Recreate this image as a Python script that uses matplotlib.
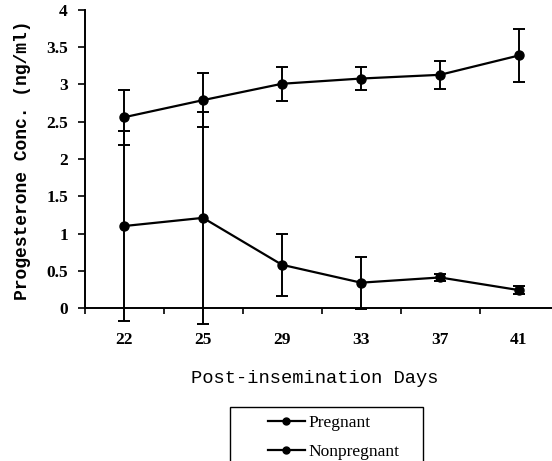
import matplotlib
matplotlib.use("Agg")
import matplotlib.pyplot as plt
from matplotlib.lines import Line2D
from matplotlib.patches import Rectangle
import numpy as np

days = ["22", "25", "29", "33", "37", "41"]
pregnant = [2.56, 2.79, 3.01, 3.08, 3.13, 3.39]
pregnant_err = [0.37, 0.36, 0.23, 0.16, 0.19, 0.36]
nonpregnant = [1.10, 1.21, 0.58, 0.34, 0.41, 0.24]
nonpregnant_err = [1.28, 1.42, 0.42, 0.35, 0.05, 0.05]
yticks = [0, 0.5, 1, 1.5, 2, 2.5, 3, 3.5, 4]
ytick_labels = ["0", "0.5", "1", "1.5", "2", "2.5", "3", "3.5", "4"]
series_names = ["Pregnant", "Nonpregnant"]

W, H = 552, 461
fig = plt.figure(figsize=(W / 100, H / 100), dpi=100)
x0_px, y0_px, ytop_px = 84.5, 308, 10
right_px = 124 + 5.5 * 79
ax = fig.add_axes([x0_px / W, (H - y0_px) / H, (right_px - x0_px) / W, (y0_px - ytop_px) / H])
axw = right_px - x0_px
axh = y0_px - ytop_px

serif = "Liberation Serif"
mono = "Liberation Mono"
xs = np.arange(len(days))

common = dict(color="black", linewidth=1.6, markersize=6.5, elinewidth=1.4,
              capsize=4, capthick=1.4, clip_on=False)
ax.errorbar(xs, pregnant, yerr=pregnant_err, marker="o", **common)
ax.errorbar(xs, nonpregnant, yerr=nonpregnant_err, marker="o", **common)

ax.set_xlim(-0.5, 5.5)
ax.set_ylim(0, 4)
ax.spines["top"].set_visible(False)
ax.spines["right"].set_visible(False)
ax.spines["left"].set_linewidth(1.4)
ax.spines["bottom"].set_linewidth(1.4)

ax.set_yticks(yticks)
ax.set_yticklabels(ytick_labels, fontfamily=serif, fontsize=12.5, fontweight="bold")
ax.tick_params(axis="y", direction="out", length=5, width=1.2, pad=7)

ax.set_xticks(xs)
ax.set_xticklabels(days, fontfamily=serif, fontsize=12.5, fontweight="bold")
ax.set_xticks(np.arange(-0.5, 6.0, 1.0), minor=True)
ax.tick_params(axis="x", which="major", length=0, pad=17)
ax.tick_params(axis="x", which="minor", direction="out", length=4, width=1.2)

ax.set_xlabel("Post-insemination Days", fontfamily=mono, fontsize=13.5)
ax.xaxis.set_label_coords((315 - x0_px) / axw, -(370 - y0_px) / axh)
ax.set_ylabel("Progesterone Conc. (ng/ml)", fontfamily=mono, fontweight="bold", fontsize=13)
ax.yaxis.set_label_coords(-(x0_px - 31) / axw, (y0_px - 160) / axh)

# legend box
fig.patches.append(Rectangle((230 / W, 1 - 470 / H), (423 - 230) / W, (470 - 407) / H,
                             transform=fig.transFigure, fill=False, edgecolor="black",
                             linewidth=1.0))
handles = [Line2D([], [], color="black", linewidth=1.6, marker="o", markersize=5)
           for _ in series_names]
leg = fig.legend(handles, series_names, loc="upper left",
                 bbox_to_anchor=(263 / W, 1 - 410 / H),
                 prop={"family": serif, "size": 12.5}, frameon=False,
                 handlelength=2.1, borderpad=0.3, labelspacing=0.7,
                 handletextpad=0.2, borderaxespad=0)

fig.savefig("out.png", dpi=100)
